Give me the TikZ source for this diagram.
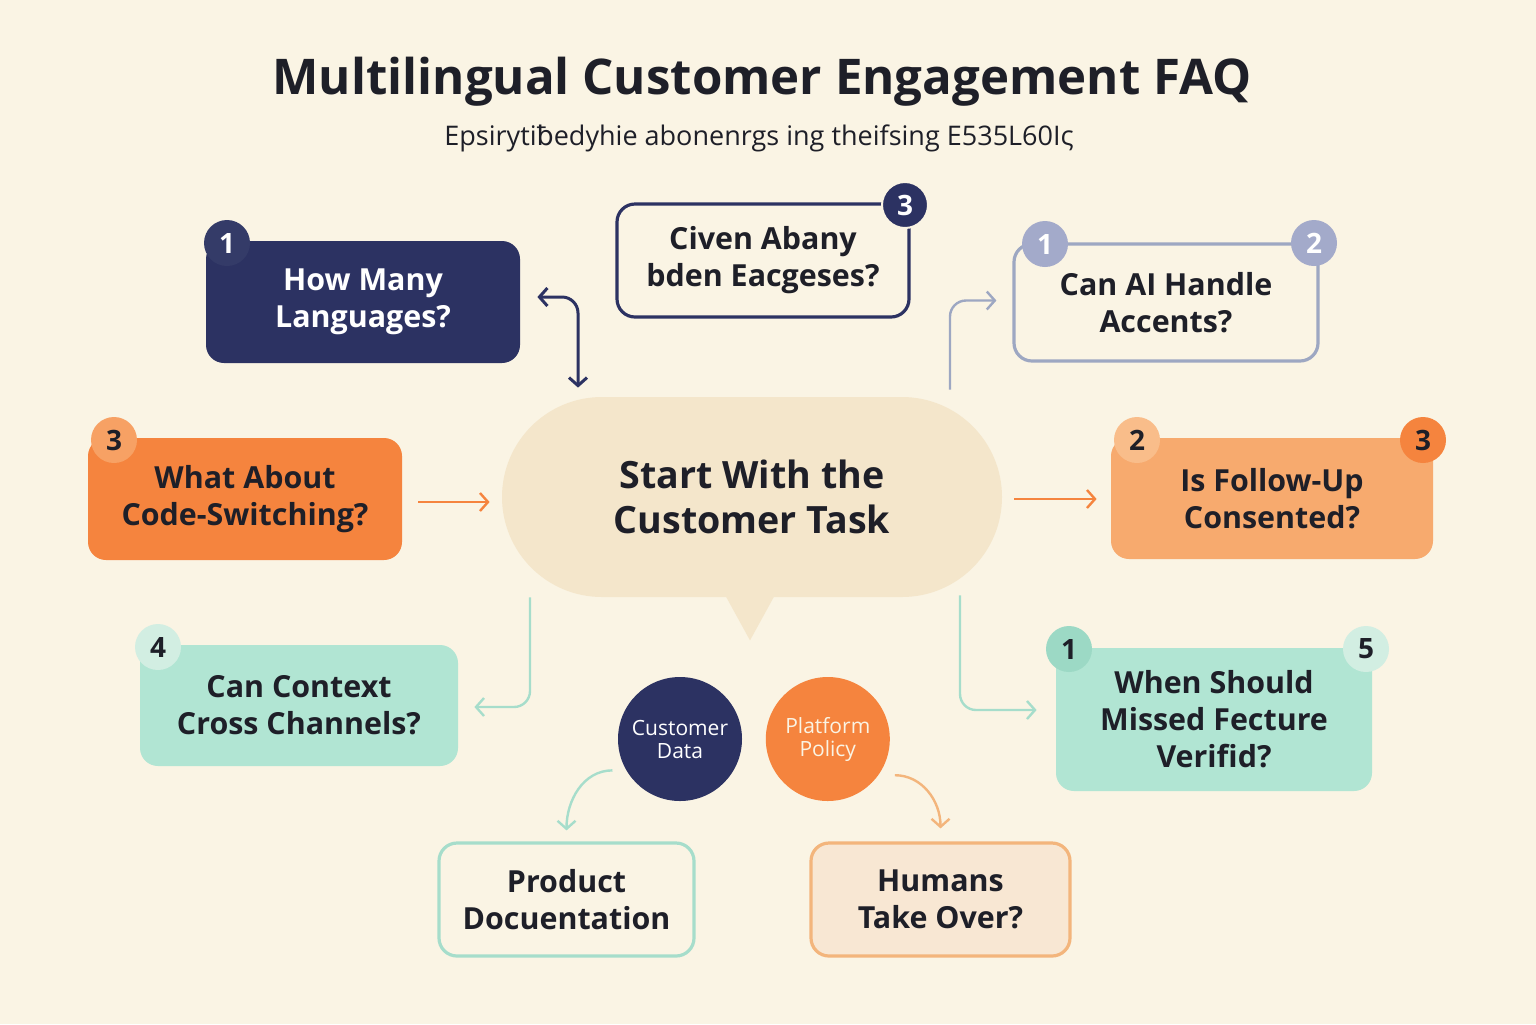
\documentclass[tikz,border=0pt]{standalone}
\usepackage{fontspec}
\setmainfont{Open Sans}
\newfontfamily\dvfont{DejaVu Sans}
\usetikzlibrary{positioning,arrows.meta,shapes.misc}
\definecolor{bgc}{HTML}{FAF4E4}
\definecolor{inkc}{HTML}{1E1F28}
\definecolor{navyc}{HTML}{2C3262}
\definecolor{navyb}{HTML}{343B68}
\definecolor{greyc}{HTML}{9DA7C2}
\definecolor{greyb}{HTML}{A3AACA}
\definecolor{orgc}{HTML}{F5843E}
\definecolor{orgb}{HTML}{F7A164}
\definecolor{peachc}{HTML}{F7AA6E}
\definecolor{peachb}{HTML}{F9BD8A}
\definecolor{mintc}{HTML}{B1E5D3}
\definecolor{mintb}{HTML}{D2EEE2}
\definecolor{mintd}{HTML}{9CD9C5}
\definecolor{mintl}{HTML}{A6DDCB}
\definecolor{bubc}{HTML}{F4E6CB}
\definecolor{humc}{HTML}{F8E7D3}
\definecolor{huml}{HTML}{F3B57C}
\tikzset{
  >={Straight Barb[length=4pt,width=9pt]},
  qbox/.style={rounded corners=9pt,align=center,text=inkc,inner sep=2pt,
    font=\fontsize{15.2}{18.5}\selectfont\bfseries},
  qnavy/.style={qbox,fill=navyc,text=white},
  qoutline/.style={qbox,fill=bgc,line width=1.6pt},
  badge/.style={circle,minimum size=23pt,inner sep=0pt,
    font=\fontsize{14}{14}\selectfont\bfseries},
  bubble/.style={rectangle,rounded corners=50pt,fill=bubc,align=center,
    text=inkc,minimum width=250pt,minimum height=100pt,
    font=\fontsize{18.8}{22.5}\selectfont\bfseries},
  srcdot/.style={circle,minimum size=62pt,inner sep=0pt,align=center,
    font=\fontsize{10.5}{11.5}\selectfont},
  flow/.style={->,line width=1.2pt,rounded corners=8pt},
}
\begin{document}
\begin{tikzpicture}[x=0.5pt,y=-0.5pt]
  \fill[bgc] (0,0) rectangle (1536,1024);
  \useasboundingbox (0,0) rectangle (1536,1024);

  \node[text=inkc,font=\fontsize{24.6}{28}\selectfont\bfseries] (title) at (762,82)
    {Multilingual Customer Engagement FAQ};
  \node[text=inkc,font=\fontsize{13.5}{15}\selectfont] (subtitle) at (759,138)
    {Epsiryti{\dvfont ƀ}edyhie abonenrgs ing theifsing E535L60Iς};

  \node[bubble] (ctr) at (752,497) {Start With the\\Customer Task};
  \fill[bubc] ([xshift=-15pt,yshift=4pt]ctr.south) -- ([xshift=-1pt,yshift=-21.5pt]ctr.south)
    -- ([xshift=13pt,yshift=4pt]ctr.south) -- cycle;

  \node[qnavy,minimum width=157pt,minimum height=61pt] (q1) at (363,302)
    {How Many\\Languages?};
  \node[qoutline,draw=navyc,minimum width=146pt,minimum height=56.5pt] (q2) at (763,260.5)
    {Civen Abany\\bden Eacgeses?};
  \node[qoutline,draw=greyc,minimum width=152pt,minimum height=58.5pt] (q3) at (1166,302.5)
    {Can AI Handle\\Accents?};
  \node[qbox,fill=orgc,minimum width=157pt,minimum height=61pt] (q4) at (245,499)
    {What About\\Code-Switching?};
  \node[qbox,fill=peachc,minimum width=161pt,minimum height=60.5pt] (q5) at (1272,498.5)
    {Is Follow-Up\\Consented?};
  \node[qbox,fill=mintc,minimum width=159pt,minimum height=60.5pt] (q6) at (299,705.5)
    {Can Context\\Cross Channels?};
  \node[qbox,fill=mintc,minimum width=158pt,minimum height=71.5pt] (q7) at (1214,719.5)
    {When Should\\Missed Fecture\\Verifid?};

  \node[badge,fill=navyb,text=white] (b1) at (227,243) {1};
  \node[badge,fill=navyc,text=white,draw=bgc,line width=1pt] (b2) at (905,205) {3};
  \node[badge,fill=greyb,text=white] (b3a) at (1045,244) {1};
  \node[badge,fill=greyb,text=white] (b3b) at (1314,243) {2};
  \node[badge,fill=orgb,text=inkc] (b4) at (114,440) {3};
  \node[badge,fill=peachb,text=inkc] (b5a) at (1137,440) {2};
  \node[badge,fill=orgc,text=inkc] (b5b) at (1423,440) {3};
  \node[badge,fill=mintb,text=inkc] (b6) at (158,647) {4};
  \node[badge,fill=mintd,text=inkc] (b7a) at (1069,649) {1};
  \node[badge,fill=mintb,text=inkc] (b7b) at (1366,649) {5};

  \node[srcdot,fill=navyc,text=white] (cd) at (680,739) {Customer\\Data};
  \node[srcdot,fill=orgc,text=bgc,right=11.5pt of cd] (pp) {Platform\\Policy};

  \node[qoutline,draw=mintl,minimum width=127.5pt,minimum height=56.5pt] (pd) at (566.5,899.5)
    {Product\\Docuentation};
  \node[qoutline,draw=huml,fill=humc,minimum width=129.5pt,minimum height=56.5pt] (hu) at (940.5,899.5)
    {Humans\\Take Over?};

  \draw[flow,<->,navyc,line width=1.5pt] ([xshift=8.5pt,yshift=2.5pt]q1.east)
    -| ([xshift=-87pt,yshift=4.5pt]ctr.north);
  \draw[flow,greyc] ([xshift=99pt,yshift=3.5pt]ctr.north) |- ([xshift=-8pt,yshift=1pt]q3.west);
  \draw[flow,orgc] ([xshift=8pt,yshift=-1.5pt]q4.east) -- ([xshift=-6pt,yshift=-2.5pt]ctr.west);
  \draw[flow,orgc] ([xshift=6pt,yshift=-1pt]ctr.east) -- ([xshift=-7pt,yshift=-0.25pt]q5.west);
  \draw[flow,mintl] ([xshift=-111pt]ctr.south) |- ([xshift=8pt,yshift=-0.75pt]q6.east);
  \draw[flow,mintl] ([xshift=104pt,yshift=1pt]ctr.south) |- ([xshift=-9.5pt,yshift=4.75pt]q7.west);
  \draw[flow,mintl] ([shift={(-5.5pt,-2.5pt)}]cd.205) to[out=180,in=90] ([yshift=5.5pt]pd.north);
  \draw[flow,huml] ([shift={(6.5pt,-2.5pt)}]pp.330) to[out=0,in=90] ([yshift=6.5pt]hu.north);
\end{tikzpicture}
\end{document}
